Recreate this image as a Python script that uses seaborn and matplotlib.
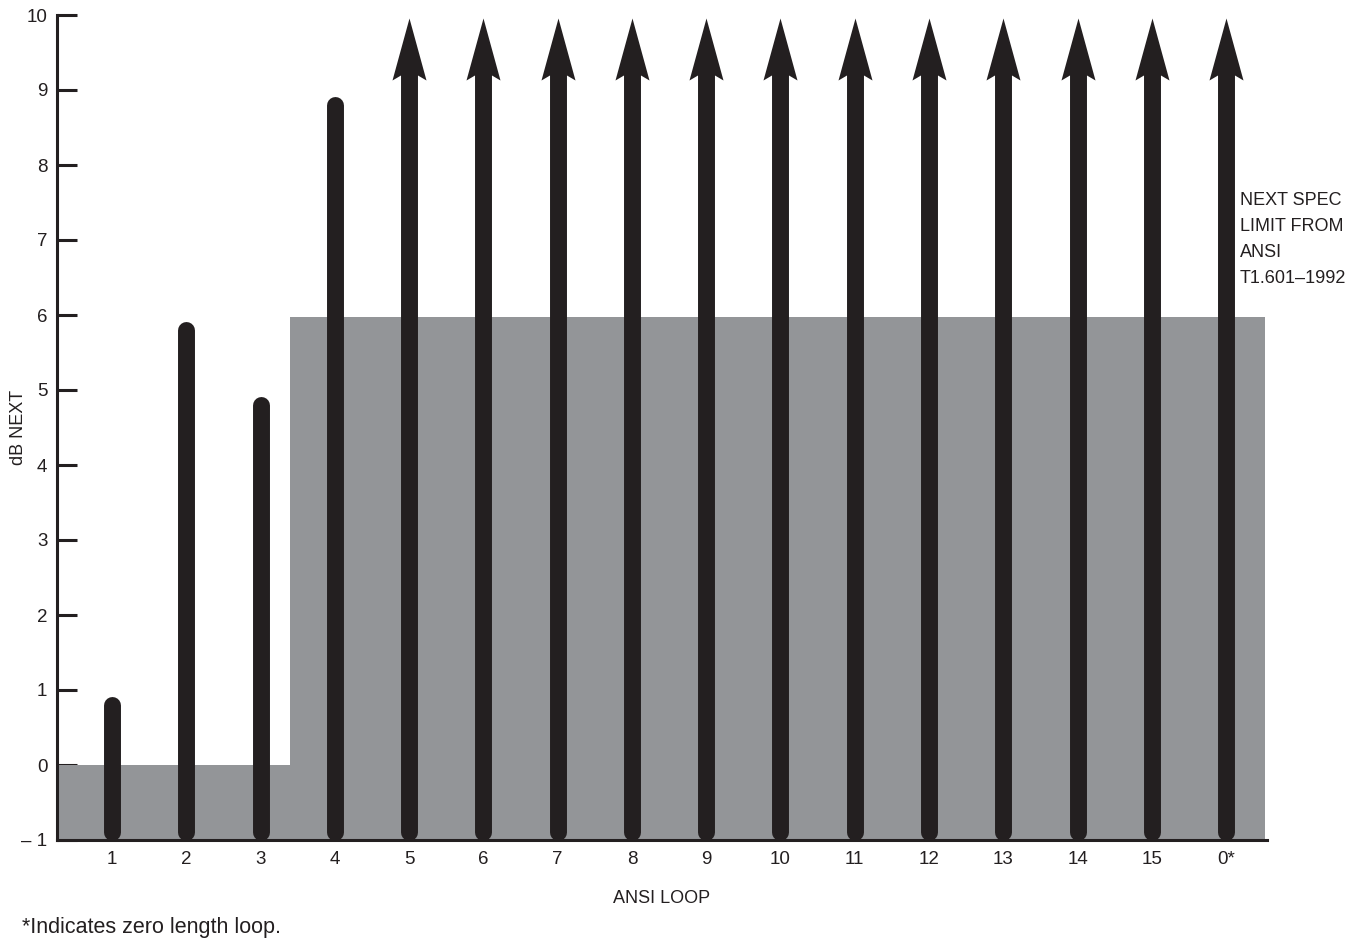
import numpy as np
import matplotlib
matplotlib.use("Agg")
import matplotlib.pyplot as plt
from matplotlib.path import Path
import seaborn as sns

# ---- data ----
loops = ["1", "2", "3", "4", "5", "6", "7", "8", "9", "10", "11", "12", "13", "14", "15", "0*"]
# dB NEXT margin per loop; np.nan = exceeds scale (drawn as arrow)
next_db = [0.8, 5.8, 4.8, 8.8] + [np.nan] * 12
# spec limit step (loop-axis edges, limit values)
spec_edges = [-0.74, 2.40, 15.52]
spec_vals = [0.0, 5.98]
yticks = list(range(-1, 11))
yticklabels = ["\u2013 1"] + [str(v) for v in range(0, 11)]

BLACK = "#231f20"
GRAY = "#939598"

sns.set_theme(style="white")
plt.rcParams["font.family"] = ["Liberation Sans", "DejaVu Sans"]

fig = plt.figure(figsize=(13.61, 9.43), dpi=100)
ax = fig.add_axes([57 / 1361, 103 / 943, (1267 - 57) / 1361, (840 - 15) / 943])

ymin, ymax = -1, 10
ax.set_ylim(ymin, ymax)
ax.set_xlim(spec_edges[0], 15.55)

# gray spec limit region
ax.fill_between(spec_edges, [spec_vals[0], spec_vals[1], spec_vals[1]], ymin,
                step="post", color=GRAY, linewidth=0, zorder=1)

# bars as thick round-capped lines
lw_pt = 12.2
px_per_unit = (840 - 15) / (ymax - ymin)
cap_units = (lw_pt / 2 * 100 / 72) / px_per_unit
pos = np.arange(len(loops))
for x, v in zip(pos, next_db):
    top = v if not np.isnan(v) else ymax - 0.6
    ax.plot([x, x], [ymin + cap_units, top], color=BLACK, lw=lw_pt,
            solid_capstyle="round", zorder=3)

# arrowheads for off-scale loops
head = Path([(0, 0), (17, -62), (8.5, -57), (-8.5, -57), (-17, -62), (0, 0)],
            [Path.MOVETO, Path.LINETO, Path.LINETO, Path.LINETO, Path.LINETO, Path.CLOSEPOLY])
arrow_x = [x for x, v in zip(pos, next_db) if np.isnan(v)]
ax.plot(arrow_x, [ymax - 0.04] * len(arrow_x), linestyle="none", marker=head,
        markersize=124 * 0.72, color=BLACK, markeredgewidth=0, zorder=4, clip_on=False)

# axes styling
sns.despine(ax=ax)
for s in ["left", "bottom"]:
    ax.spines[s].set_color(BLACK)
    ax.spines[s].set_linewidth(2.2)
    ax.spines[s].set_zorder(5)
ax.set_yticks(yticks)
ax.set_yticklabels(yticklabels)
ax.set_xticks(pos)
ax.set_xticklabels(loops)
ax.tick_params(axis="y", direction="in", length=14.5, width=2.2, color=BLACK,
               labelsize=13.5, labelcolor=BLACK, pad=7, left=True)
ax.tick_params(axis="x", length=0, labelsize=13.5, labelcolor=BLACK, pad=8)
ax.set_ylabel("dB NEXT", fontsize=13, color=BLACK)
ax.yaxis.set_label_coords((27 - 57) / 1210, 0.5)
ax.set_xlabel("ANSI LOOP", fontsize=13, color=BLACK, labelpad=16)

ax.text(1240 / 1361, 1 - 192 / 943,
        "NEXT SPEC\nLIMIT FROM\nANSI\nT1.601\u20131992",
        transform=fig.transFigure, ha="left", va="top", fontsize=13,
        color=BLACK, linespacing=1.68)

fig.text(22 / 1361, 1 - 928 / 943, "*Indicates zero length loop.",
         ha="left", va="center", fontsize=15.5, color=BLACK,
         family=["Liberation Sans", "DejaVu Sans"])

fig.savefig("out.png", dpi=100)
